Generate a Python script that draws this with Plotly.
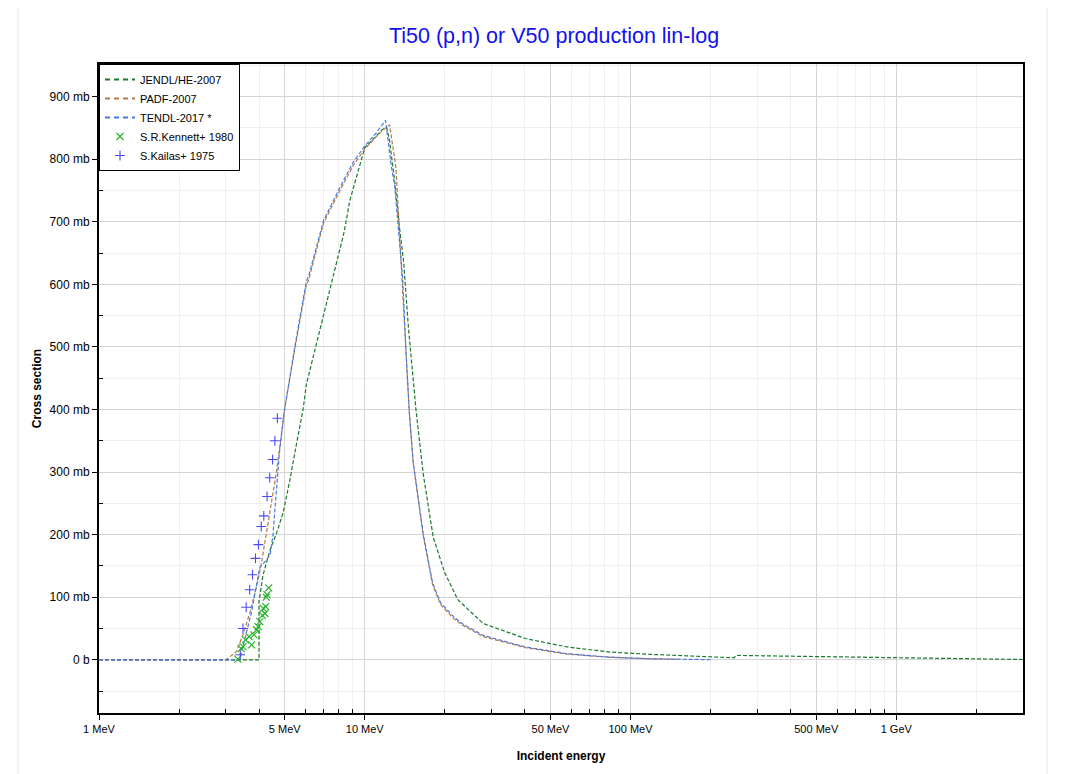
import plotly.graph_objects as go

# JENDL/HE-2007 (green)
jendl_e = [1, 4.0, 4.0, 4.14, 4.4, 4.67, 4.93, 5.22, 5.53, 5.86, 6.03, 6.75, 7.47, 8.37, 8.79, 10,
           11.7, 12.1, 12.4, 13.0, 13.5, 14.0, 14.6, 15.2, 15.6, 16.6, 18.1, 20.0, 22.4, 27.9, 40.2,
           57.8, 83.4, 120, 245, 250, 519, 1077, 3000]
jendl_xs = [0, 0, 93, 135, 175, 204, 235, 286, 344, 400, 440, 525, 600, 684, 734, 818,
            848, 850, 829, 760, 692, 637, 531, 451, 398, 297, 196, 139, 96, 58, 34,
            20.5, 12.4, 8.6, 3.2, 7, 5.4, 2.7, 0.5]

# PADF-2007 (brown)
padf_e = [1, 3.0, 3.29, 3.48, 3.69, 3.91, 4.08, 4.26, 4.45, 4.65, 4.86, 5.0, 5.45, 6.03, 6.14, 7.0,
          8.07, 9.05, 10, 11.05, 12.0, 12.4, 13.1, 13.7, 14.27, 14.7, 15.2, 15.9, 16.6, 18.0, 19.3,
          21.6, 23.2, 27.9, 40.2, 57.8, 83.4, 120, 150]
padf_xs = [0, 0, 13, 40, 74, 116, 153, 201, 246, 299, 360, 402, 495, 600, 606, 698,
           750, 790, 816, 836, 850, 855, 787, 637, 499, 398, 316, 252, 198, 120, 88,
           66, 56, 37, 19.5, 9.0, 4.0, 1.5, 0.8]

# TENDL-2017 (blue)
tendl_e = [1, 3.38, 3.48, 3.58, 3.74, 4.03, 4.26, 4.41, 4.52, 4.65, 4.78, 4.96, 5.45, 6.03, 6.14,
           7.0, 8.07, 9.05, 10, 11.05, 11.98, 12.6, 12.95, 13.5, 13.9, 14.27, 14.7, 15.2, 15.9, 16.6,
           18.0, 19.3, 21.6, 23.2, 27.9, 40.2, 57.8, 83.4, 120, 200]
tendl_xs = [0, 0, 21, 42, 74, 148, 159, 169, 201, 270, 333, 392, 499, 605, 612,
            702, 755, 795, 821, 842, 862, 787, 760, 670, 607, 499, 398, 318, 254, 201,
            123, 91, 69, 58, 39, 20.5, 9.7, 4.3, 1.6, 0.3]

# S.R.Kennett+ 1980
kennett_e = [3.33, 3.43, 3.48, 3.56, 3.67, 3.75, 3.83, 3.92, 3.97, 4.03, 4.12, 4.15, 4.21, 4.24,
             4.26, 4.29, 4.35]
kennett_xs = [1, 18, 21, 32, 37, 24, 40, 48, 53, 61, 71, 82, 74, 85, 100, 104, 115]

# S.Kailas+ 1975
kailas_e = [3.40, 3.48, 3.58, 3.69, 3.78, 3.88, 3.98, 4.08, 4.17, 4.29, 4.39, 4.50, 4.59, 4.69]
kailas_xs = [8, 50, 84, 112, 136, 162, 184, 213, 230, 261, 291, 320, 350, 386]

x_tickvals = [1, 5, 10, 50, 100, 500, 1000]
x_ticktext = ["1 MeV", "5 MeV", "10 MeV", "50 MeV", "100 MeV", "500 MeV", "1 GeV"]
x_minor = [2, 3, 4, 6, 7, 8, 9, 20, 30, 40, 60, 70, 80, 90, 200, 300, 400, 600, 700, 800, 900, 2000, 3000]
y_tickvals = [0, 100, 200, 300, 400, 500, 600, 700, 800, 900]
y_ticktext = ["0 b"] + [f"{v} mb" for v in y_tickvals[1:]]
y_minor = [-50, 50, 150, 250, 350, 450, 550, 650, 750, 850, 950]

FONT = "Liberation Sans, Arial, sans-serif"
dash = "4px,2px"
c_jendl, c_padf, c_tendl = "#1b7a2c", "#b07a4a", "#4a78e6"
c_kennett, c_kailas = "#22b022", "#4a4af5"

# page body has an 8px margin, so the figure is shrunk by that much
W, H = 1071 - 8, 774 - 8

fig = go.Figure()
curves = [
    ("JENDL/HE-2007", jendl_e, jendl_xs, c_jendl),
    ("PADF-2007", padf_e, padf_xs, c_padf),
    ("TENDL-2017 *", tendl_e, tendl_xs, c_tendl),
]
for name, e, xs, c in curves:
    fig.add_trace(go.Scatter(x=e, y=xs, mode="lines", name=name, showlegend=False,
                             line=dict(color=c, width=1.2, dash=dash)))
# legend swatches with heavier dashes
for name, e, xs, c in curves:
    fig.add_trace(go.Scatter(x=[None], y=[None], mode="lines", name=name,
                             line=dict(color=c, width=2, dash="5px,4px")))

fig.add_trace(go.Scatter(x=kennett_e, y=kennett_xs, mode="markers", name="S.R.Kennett+ 1980",
                         marker=dict(symbol="x-thin-open", size=7, color=c_kennett,
                                     line=dict(width=1.1, color=c_kennett))))
fig.add_trace(go.Scatter(x=kailas_e, y=kailas_xs, mode="markers", name="S.Kailas+ 1975",
                         marker=dict(symbol="cross-thin-open", size=7, color=c_kailas,
                                     line=dict(width=1.1, color=c_kailas))))

fig.update_xaxes(
    type="log", range=[0, 3.477],
    tickvals=x_tickvals, ticktext=x_ticktext,
    ticks="outside", ticklen=5, tickcolor="black",
    showgrid=True, gridcolor="#d4d4d4", gridwidth=1,
    showline=True, linecolor="black", linewidth=2, mirror=True,
    zeroline=False,
    minor=dict(tickvals=x_minor, ticks="inside", ticklen=4, tickcolor="black",
               showgrid=True, gridcolor="#efefef"),
    tickfont=dict(size=11, color="black"),
    title=dict(text="<b>Incident energy</b>", font=dict(size=12, color="black"), standoff=17),
)
fig.update_yaxes(
    range=[-85, 952],
    tickvals=y_tickvals, ticktext=y_ticktext,
    ticks="outside", ticklen=5, tickcolor="black",
    showgrid=True, gridcolor="#d4d4d4", gridwidth=1,
    showline=True, linecolor="black", linewidth=2, mirror=True,
    zeroline=False,
    minor=dict(tickvals=y_minor, ticks="inside", ticklen=4, tickcolor="black",
               showgrid=True, gridcolor="#efefef"),
    tickfont=dict(size=12, color="black"),
    title=dict(text="<b>Cross section</b>", font=dict(size=12, color="black"), standoff=5),
)

# light frame around the whole picture
fig.add_shape(type="rect", xref="paper", yref="paper", x0=-0.0877, x1=1.026, y0=-0.12, y1=1.091,
              line=dict(color="#e6e6e6", width=1), layer="below")

fig.update_layout(
    width=W, height=H,
    margin=dict(l=91, r=48, t=56, b=61),
    paper_bgcolor="white", plot_bgcolor="white",
    font=dict(family=FONT, color="black"),
    title=dict(text="Ti50 (p,n) or V50 production lin-log", x=0.4925, xref="paper",
               xanchor="center", y=1 - 27 / H, yref="container", yanchor="middle",
               font=dict(size=21.5, color="#1010ee", family=FONT)),
    legend=dict(x=0, y=1, xanchor="left", yanchor="top", bgcolor="white",
                bordercolor="black", borderwidth=1, font=dict(size=11, color="black"),
                tracegroupgap=0, itemwidth=30),
    showlegend=True,
)

fig.write_html("out.html")
